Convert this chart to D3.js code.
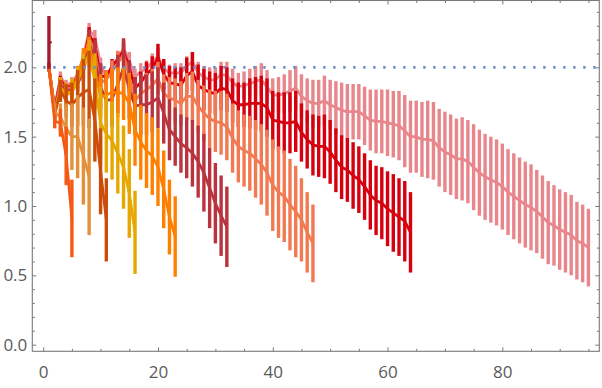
<!DOCTYPE html>
<html>
<head>
<meta charset="utf-8">
<script src="https://cdn.jsdelivr.net/npm/d3@7"></script>
<style>
  body { margin: 0; background: #fff; }
  svg { display: block; }
</style>
</head>
<body>
<svg id="chart" width="602" height="388"></svg>
<script>

// series values, x = 1..n
var pinkVals = [2.00,1.71,1.93,1.87,1.89,1.95,2.07,2.27,2.22,2.02,1.93,1.98,2.05,2.14,2.05,1.93,1.97,1.99,2.04,2.08,
  1.99,1.96,1.96,1.96,2.01,2.04,1.96,1.93,1.91,1.91,1.95,1.94,1.89,1.86,1.87,1.88,1.90,1.91,1.86,1.80,
  1.80,1.81,1.83,1.85,1.79,1.76,1.74,1.74,1.76,1.73,1.71,1.69,1.68,1.68,1.68,1.65,1.62,1.61,1.61,1.60,
  1.59,1.58,1.54,1.50,1.50,1.48,1.48,1.47,1.42,1.39,1.37,1.34,1.34,1.32,1.28,1.24,1.21,1.19,1.17,1.14,
  1.10,1.07,1.04,1.01,0.99,0.96,0.92,0.88,0.86,0.83,0.81,0.79,0.75,0.73,0.70];
var pinkErr = [0.02,0.04,0.04,0.04,0.04,0.04,0.04,0.05,0.05,0.05,0.05,0.05,0.05,0.06,0.06,0.06,0.06,0.06,0.06,0.06,
  0.06,0.06,0.07,0.07,0.07,0.07,0.08,0.08,0.09,0.09,0.09,0.10,0.10,0.10,0.10,0.11,0.11,0.12,0.12,0.12,
  0.13,0.14,0.15,0.16,0.16,0.16,0.17,0.17,0.18,0.18,0.19,0.20,0.20,0.20,0.20,0.21,0.22,0.23,0.23,0.24,
  0.24,0.25,0.26,0.26,0.26,0.27,0.28,0.28,0.28,0.29,0.29,0.29,0.30,0.30,0.31,0.31,0.31,0.31,0.31,0.31,
  0.31,0.31,0.31,0.31,0.31,0.30,0.30,0.30,0.29,0.29,0.29,0.29,0.28,0.28,0.28];

var redVals = [2.00,1.70,1.91,1.85,1.87,1.93,2.04,2.24,2.16,1.94,1.93,2.01,2.06,2.12,2.00,1.85,1.89,1.95,1.99,2.07,
  1.95,1.89,1.88,1.87,1.94,1.97,1.87,1.84,1.82,1.81,1.85,1.84,1.76,1.73,1.73,1.74,1.74,1.74,1.71,1.62,
  1.61,1.60,1.60,1.61,1.53,1.48,1.44,1.43,1.43,1.39,1.33,1.28,1.26,1.22,1.19,1.14,1.08,1.04,1.02,0.98,
  0.95,0.92,0.89,0.81];
var redErr = [0.03,0.03,0.03,0.03,0.03,0.03,0.03,0.05,0.05,0.05,0.05,0.05,0.05,0.05,0.05,0.08,0.08,0.09,0.09,0.10,
  0.11,0.12,0.12,0.13,0.13,0.14,0.15,0.15,0.15,0.15,0.16,0.16,0.16,0.16,0.16,0.18,0.19,0.20,0.21,0.21,
  0.21,0.22,0.22,0.22,0.21,0.21,0.22,0.22,0.23,0.23,0.23,0.23,0.23,0.24,0.24,0.24,0.25,0.25,0.26,0.27,
  0.28,0.28,0.29,0.29];

var coralVals = [2.00,1.69,1.89,1.84,1.86,1.91,2.02,2.21,2.10,1.89,1.91,1.97,2.03,2.09,1.93,1.76,1.81,1.84,1.87,1.92,
  1.81,1.78,1.76,1.74,1.79,1.79,1.72,1.67,1.63,1.61,1.60,1.57,1.49,1.43,1.40,1.38,1.34,1.30,1.24,1.15,
  1.10,1.07,1.01,0.96,0.90,0.81,0.73];
var coralErr = [0.03,0.04,0.04,0.04,0.04,0.04,0.04,0.04,0.04,0.06,0.07,0.08,0.09,0.10,0.11,0.12,0.12,0.12,0.12,0.12,
  0.14,0.15,0.16,0.16,0.17,0.18,0.19,0.20,0.21,0.22,0.23,0.24,0.25,0.26,0.26,0.27,0.28,0.29,0.31,0.33,
  0.33,0.33,0.33,0.33,0.30,0.29,0.28];

var crimsonVals = [2.00,1.69,1.88,1.83,1.84,1.88,1.97,2.17,2.05,1.86,1.76,1.77,1.88,2.00,1.84,1.72,1.73,1.73,1.75,1.78,
  1.67,1.55,1.50,1.45,1.42,1.38,1.32,1.24,1.13,1.02,0.93,0.85];
var crimsonErr = [0.03,0.05,0.05,0.05,0.05,0.05,0.05,0.10,0.15,0.17,0.19,0.20,0.21,0.21,0.21,0.21,0.22,0.22,0.22,0.22,
  0.22,0.22,0.21,0.21,0.22,0.24,0.26,0.28,0.29,0.29,0.29,0.29];

var orangeVals = [2.00,1.67,1.85,1.81,1.83,1.93,2.08,2.17,1.97,1.79,1.80,1.82,1.82,1.81,1.74,1.55,1.46,1.40,1.36,1.28,
  1.12,0.92,0.78];
var orangeErr = [0.02,0.04,0.06,0.07,0.08,0.08,0.06,0.05,0.10,0.16,0.17,0.17,0.18,0.19,0.22,0.26,0.27,0.27,0.28,0.28,
  0.28,0.27,0.29];

var goldVals = [2.00,1.67,1.86,1.80,1.82,1.90,2.00,2.10,1.90,1.60,1.52,1.47,1.38,1.28,1.09,0.81];
var goldErr = [0.02,0.05,0.07,0.09,0.10,0.10,0.10,0.10,0.20,0.26,0.28,0.28,0.29,0.30,0.32,0.30];

var darkOrangeVals = [2.00,1.66,1.83,1.76,1.73,1.78,1.82,1.84,1.62,1.25,0.90];
var darkOrangeErr = [0.02,0.05,0.08,0.12,0.16,0.20,0.24,0.28,0.30,0.31,0.30];

var tanVals = [2.00,1.68,1.64,1.56,1.50,1.50,1.36,1.21];
var tanErr = [0.02,0.06,0.10,0.18,0.24,0.30,0.35,0.42];

var redOrangeVals = [2.00,1.61,1.60,1.36,0.91];
var redOrangeErr = [0.02,0.05,0.10,0.21,0.28];

var firstVals = [2.18];
var firstErr = [0.19];

var refLevel = 2.0;

var xMajor = [0, 20, 40, 60, 80];
var yMajor = [0.0, 0.5, 1.0, 1.5, 2.0];

// drawing order: longest first, so the short ones sit on top
var seriesList = [
  {vals: pinkVals, err: pinkErr, color: "#e8868c"},
  {vals: redVals, err: redErr, color: "#d6000f"},
  {vals: coralVals, err: coralErr, color: "#f27a52"},
  {vals: crimsonVals, err: crimsonErr, color: "#b9343f"},
  {vals: orangeVals, err: orangeErr, color: "#ff8000"},
  {vals: goldVals, err: goldErr, color: "#e6a800"},
  {vals: darkOrangeVals, err: darkOrangeErr, color: "#cc4d0a"},
  {vals: tanVals, err: tanErr, color: "#e2903a"},
  {vals: redOrangeVals, err: redOrangeErr, color: "#f55a14"},
  {vals: firstVals, err: firstErr, color: "#a6192c"}
];

function draw_chart() {

var svg = d3.select("#chart"),
    pLeft = 32.3, pRight = 599.3, pTop = 0.5, pBottom = 351.3;

var x = d3.scaleLinear().domain([-1.9, 96.9]).range([pLeft, pRight]),
    y = d3.scaleLinear().domain([-0.048, 2.482]).range([pBottom, pTop]);

var plot = svg.append("g");

var line = d3.line()
    .x(function(d) { return x(d.i); })
    .y(function(d) { return y(d.v); });

seriesList.forEach(function(s) {
  var pts = s.vals.map(function(v, k) { return {i: k + 1, v: v, e: s.err[k]}; });

  // error bars first, mean line over them
  plot.append("g").selectAll("line")
      .data(pts)
    .enter().append("line")
      .attr("x1", function(d) { return x(d.i); })
      .attr("x2", function(d) { return x(d.i); })
      .attr("y1", function(d) { return y(d.v - d.e); })
      .attr("y2", function(d) { return y(d.v + d.e); })
      .attr("stroke", s.color)
      .attr("stroke-width", 3.4);

  if (pts.length > 1) {
    plot.append("path")
        .datum(pts)
        .attr("d", line)
        .attr("fill", "none")
        .attr("stroke", s.color)
        .attr("stroke-width", 2.8)
        .attr("stroke-linejoin", "round");
  } else {
    plot.append("circle")
        .attr("cx", x(pts[0].i) + 1.5)
        .attr("cy", y(pts[0].v))
        .attr("r", 1.4)
        .attr("fill", s.color);
  }
});

// dotted reference line
plot.append("line")
    .attr("x1", x(0))
    .attr("x2", pRight - 3)
    .attr("y1", y(refLevel))
    .attr("y2", y(refLevel))
    .attr("stroke", "#6a8fc6")
    .attr("stroke-width", 2.6)
    .attr("stroke-dasharray", "2.4,7.6");

// frame with ticks on all four sides
var frameColor = "#7a7a7a",
    labelColor = "#5a5a5a";

function styleAxis(g) {
  g.select(".domain").remove();
  g.selectAll(".tick line").attr("stroke", frameColor);
  g.selectAll("text")
      .attr("fill", labelColor)
      .attr("font-family", "'Open Sans', sans-serif")
      .attr("font-size", "17px");
}

var xMinor = d3.range(0, 97, 5).filter(function(v) { return xMajor.indexOf(v) < 0; });
var yMinor = d3.range(0, 25).filter(function(v) { return v % 5 !== 0; })
    .map(function(v) { return v / 10; });

svg.append("g")
    .attr("transform", "translate(0," + pBottom + ")")
    .call(d3.axisBottom(x).tickValues(xMajor).tickSize(-4).tickPadding(15).tickFormat(d3.format("d")))
    .call(styleAxis);
svg.append("g")
    .attr("transform", "translate(0," + pBottom + ")")
    .call(d3.axisBottom(x).tickValues(xMinor).tickSize(-2.5).tickFormat(""))
    .call(styleAxis);
svg.append("g")
    .attr("transform", "translate(0," + pTop + ")")
    .call(d3.axisTop(x).tickValues(xMajor).tickSize(-4).tickFormat(""))
    .call(styleAxis);
svg.append("g")
    .attr("transform", "translate(0," + pTop + ")")
    .call(d3.axisTop(x).tickValues(xMinor).tickSize(-2.5).tickFormat(""))
    .call(styleAxis);

svg.append("g")
    .attr("transform", "translate(" + pLeft + ",0)")
    .call(d3.axisLeft(y).tickValues(yMajor).tickSize(-4).tickPadding(5).tickFormat(d3.format(".1f")))
    .call(styleAxis);
svg.append("g")
    .attr("transform", "translate(" + pLeft + ",0)")
    .call(d3.axisLeft(y).tickValues(yMinor).tickSize(-2.5).tickFormat(""))
    .call(styleAxis);
svg.append("g")
    .attr("transform", "translate(" + pRight + ",0)")
    .call(d3.axisRight(y).tickValues(yMajor).tickSize(-4).tickFormat(""))
    .call(styleAxis);
svg.append("g")
    .attr("transform", "translate(" + pRight + ",0)")
    .call(d3.axisRight(y).tickValues(yMinor).tickSize(-2.5).tickFormat(""))
    .call(styleAxis);

svg.append("rect")
    .attr("x", pLeft)
    .attr("y", pTop)
    .attr("width", pRight - pLeft)
    .attr("height", pBottom - pTop)
    .attr("fill", "none")
    .attr("stroke", frameColor)
    .attr("stroke-width", 1.1);
}

draw_chart();

</script>
</body>
</html>
